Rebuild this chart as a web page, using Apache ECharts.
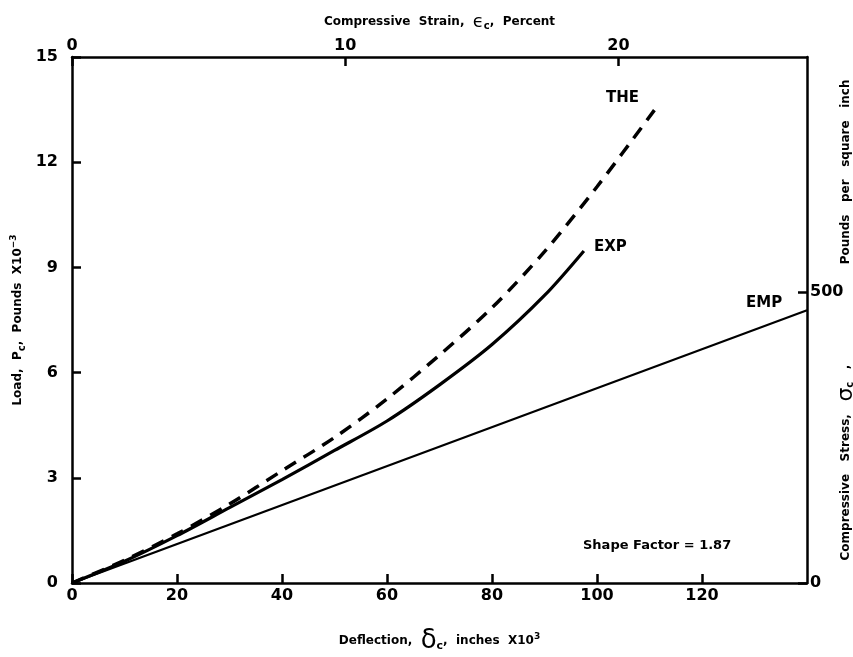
<!DOCTYPE html>
<html>
<head>
<meta charset="utf-8">
<script src="https://cdn.jsdelivr.net/npm/echarts@6/dist/echarts.min.js"></script>
<style>html,body{margin:0;padding:0;background:#fff}#c{width:853px;height:657px}</style>
</head>
<body>
<div id="c"></div>
<script>
// Deflection (inches x 10^3) and load (pounds x 10^-3)
const theDefl = [0, 10, 20, 30, 40, 50, 60, 70, 80, 90, 100, 111.3];
const theLoad = [0, 0.65, 1.4, 2.25, 3.2, 4.15, 5.25, 6.5, 7.85, 9.45, 11.3, 13.56];
const expDefl = [0, 10, 20, 30, 40, 50, 60, 70, 80, 90, 97.5];
const expLoad = [0, 0.62, 1.35, 2.15, 2.95, 3.78, 4.62, 5.65, 6.8, 8.2, 9.47];
const empDefl = [0, 140];
const empLoad = [0, 7.78];
const xTicks = [0, 20, 40, 60, 80, 100, 120];
const yTicks = [0, 3, 6, 9, 12, 15];
const strainTicks = [0, 10, 20];
const stressTicks = [0, 500];

const F = '"DejaVu Sans", Arial, sans-serif';
const pair = (xs, ys) => xs.map((x, i) => [x, ys[i]]);
const tickStyle = {show: true, inside: true, length: 9, lineStyle: {color: '#000', width: 2.5}};
const axLine = {onZero: false, lineStyle: {color: '#000', width: 2.5}};
const lbl = (m) => ({color: '#000', fontFamily: F, fontWeight: 'bold', fontSize: 16, margin: m});

const chart = echarts.init(document.getElementById('c'), null, {renderer: 'canvas'});
chart.setOption({
  animation: false,
  backgroundColor: '#fff',
  grid: {left: 72, right: 46, top: 57, bottom: 74, containLabel: false, outerBoundsMode: 'none'},
  xAxis: [{
    type: 'value', position: 'bottom', min: 0, max: 140, interval: 20,
    axisLine: axLine, axisTick: tickStyle, splitLine: {show: false},
    axisLabel: Object.assign(lbl(5), {showMaxLabel: false, formatter: v => xTicks.includes(v) ? String(v) : ''}),
    name: '{n|Deflection,  }{d|δ}{s|c}{n|,  inches  X10}{p|3}',
    nameLocation: 'middle', nameGap: 45, nameMoveOverlap: false,
    nameTextStyle: {rich: {
      n: {fontFamily: F, fontWeight: 'bold', fontSize: 12, color: '#000'},
      d: {fontFamily: F, fontSize: 26, color: '#000'},
      s: {fontFamily: F, fontWeight: 'bold', fontSize: 11, color: '#000', padding: [10, 0, 0, 0]},
      p: {fontFamily: F, fontWeight: 'bold', fontSize: 9, color: '#000', padding: [0, 0, 8, 0]}
    }}
  }, {
    type: 'value', position: 'top', min: 0, max: 26.9, interval: 10,
    axisLine: axLine, axisTick: tickStyle, splitLine: {show: false},
    axisLabel: Object.assign(lbl(3), {showMaxLabel: false, formatter: v => strainTicks.includes(v) ? String(v) : ''}),
    name: '{n|Compressive  Strain,  }{e|ϵ}{s|c}{n|,  Percent}',
    nameLocation: 'middle', nameGap: 26, nameMoveOverlap: false,
    nameTextStyle: {rich: {
      n: {fontFamily: F, fontWeight: 'bold', fontSize: 12, color: '#000'},
      e: {fontFamily: F, fontSize: 18, color: '#000'},
      s: {fontFamily: F, fontWeight: 'bold', fontSize: 10, color: '#000', padding: [8, 0, 0, 0]}
    }}
  }],
  yAxis: [{
    type: 'value', position: 'left', min: 0, max: 15, interval: 3,
    axisLine: axLine, axisTick: tickStyle, splitLine: {show: false},
    axisLabel: Object.assign(lbl(14), {formatter: v => yTicks.includes(v) ? String(v) : ''}),
    name: '{n|Load,  P}{s|c}{n|,  Pounds  X10}{p|−3}',
    nameLocation: 'middle', nameGap: 45, nameRotate: 90, nameMoveOverlap: false,
    nameTextStyle: {rich: {
      n: {fontFamily: F, fontWeight: 'bold', fontSize: 12, color: '#000'},
      s: {fontFamily: F, fontWeight: 'bold', fontSize: 10, color: '#000', padding: [8, 0, 0, 0]},
      p: {fontFamily: F, fontWeight: 'bold', fontSize: 9, color: '#000', padding: [0, 0, 8, 0]}
    }}
  }, {
    type: 'value', position: 'right', min: 0, max: 904, interval: 500,
    axisLine: axLine, axisTick: tickStyle, splitLine: {show: false},
    axisLabel: Object.assign(lbl(3), {showMaxLabel: false, formatter: v => stressTicks.includes(v) ? String(v) : ''}),
    name: '{n|Compressive   Stress,   }{g|σ}{s|c}{n|   ,                        Pounds   per   square   inch}',
    nameLocation: 'middle', nameGap: 28, nameRotate: 90, nameMoveOverlap: false,
    nameTextStyle: {rich: {
      n: {fontFamily: F, fontWeight: 'bold', fontSize: 12, color: '#000'},
      g: {fontFamily: F, fontSize: 22, color: '#000'},
      s: {fontFamily: F, fontWeight: 'bold', fontSize: 10, color: '#000', padding: [8, 0, 0, 0]}
    }}
  }],
  series: [{
    type: 'line', name: 'THE', data: pair(theDefl, theLoad), smooth: 0.3, showSymbol: false,
    lineStyle: {color: '#000', width: 3.5, type: [13, 9]}
  }, {
    type: 'line', name: 'EXP', data: pair(expDefl, expLoad), smooth: 0.3, showSymbol: false,
    lineStyle: {color: '#000', width: 3.2}
  }, {
    type: 'line', name: 'EMP', data: pair(empDefl, empLoad), showSymbol: false,
    lineStyle: {color: '#000', width: 2.2}
  }],
  graphic: [
    {type: 'text', left: 606, top: 91, style: {text: 'THE', font: 'bold 15px ' + F, fill: '#000'}},
    {type: 'text', left: 594, top: 240, style: {text: 'EXP', font: 'bold 15px ' + F, fill: '#000'}},
    {type: 'text', left: 746, top: 296, style: {text: 'EMP', font: 'bold 15px ' + F, fill: '#000'}},
    {type: 'text', left: 583, top: 539, style: {text: 'Shape Factor = 1.87', font: 'bold 13px ' + F, fill: '#000'}}
  ]
});
</script>
</body>
</html>
